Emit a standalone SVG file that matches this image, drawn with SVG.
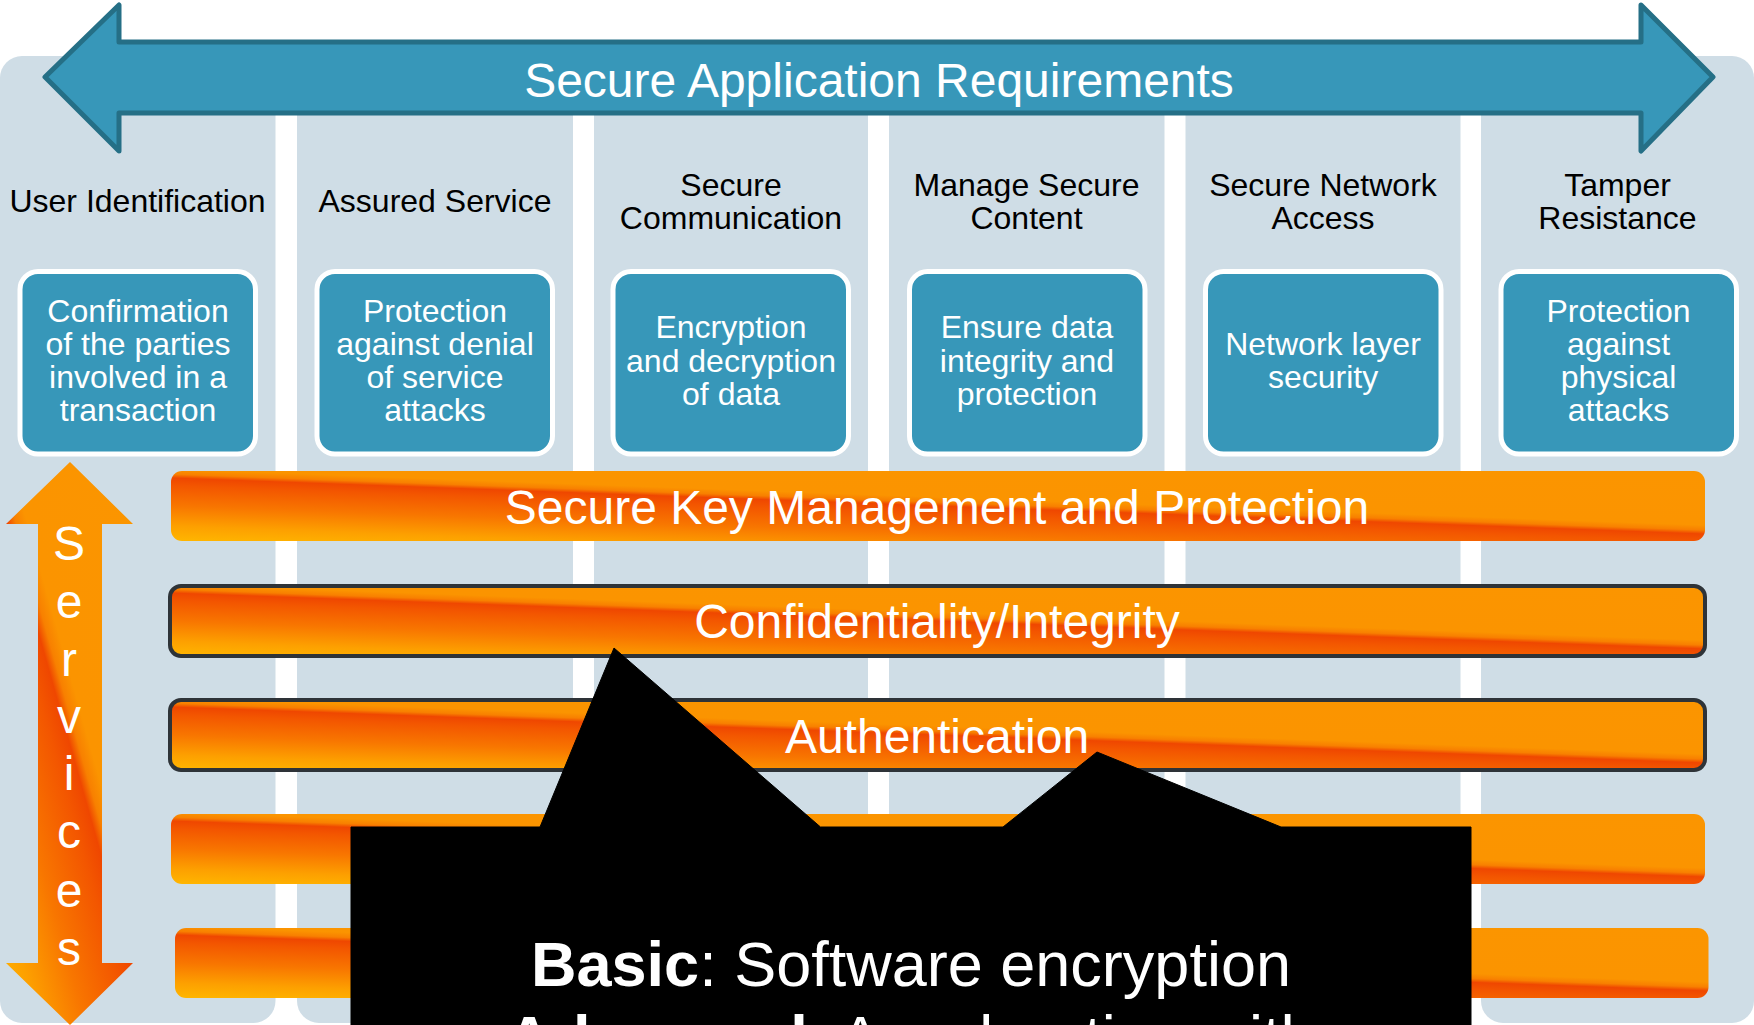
<svg xmlns="http://www.w3.org/2000/svg" width="1754" height="1025" viewBox="0 0 1754 1025">
  <defs>
    <style>
      .col { fill: #CFDDE6; }
      .head { font-family: "Liberation Sans", Arial, sans-serif; font-size: 32px; fill: #000000; text-anchor: middle; }
      .box { fill: #3797B9; stroke: #FFFFFF; stroke-width: 5; }
      .boxtxt { font-family: "Liberation Sans", Arial, sans-serif; font-size: 32px; fill: #FFFFFF; text-anchor: middle; }
      .bar { fill: url(#flame); }
      .bar-edged { fill: url(#flame); stroke: #2E3338; stroke-width: 4; }
      .bartxt { font-family: "Liberation Sans", Arial, sans-serif; font-size: 48px; fill: #FFFFFF; text-anchor: middle; }
      .svc { font-family: "Liberation Sans", Arial, sans-serif; font-size: 48px; fill: #FFFFFF; text-anchor: middle; }
      .note { font-family: "Liberation Sans", Arial, sans-serif; font-size: 63px; fill: #FFFFFF; text-anchor: middle; }
    </style>
    <!-- orange fill with a diagonal red streak running from top-left to bottom-right -->
    <linearGradient id="flame" x1="0" y1="1" x2="0.879" y2="-0.098">
      <stop offset="0" stop-color="#FFB600"/>
      <stop offset="0.12" stop-color="#FDA000"/>
      <stop offset="0.28" stop-color="#F87600"/>
      <stop offset="0.44" stop-color="#F35600"/>
      <stop offset="0.5" stop-color="#EF4700"/>
      <stop offset="0.53" stop-color="#F88000"/>
      <stop offset="0.57" stop-color="#FB9400"/>
      <stop offset="1" stop-color="#FB9500"/>
    </linearGradient>
  </defs>

  <!-- requirement columns -->
  <g id="columns">
    <rect class="col" x="0" y="56" width="275.5" height="967" rx="22"/>
    <rect class="col" x="297" y="56" width="276" height="967" rx="22"/>
    <rect class="col" x="594" y="56" width="274" height="967" rx="22"/>
    <rect class="col" x="889" y="56" width="275.5" height="967" rx="22"/>
    <rect class="col" x="1185.5" y="56" width="275" height="967" rx="22"/>
    <rect class="col" x="1481" y="56" width="273" height="967" rx="22"/>
  </g>

  <!-- double-headed banner arrows -->
  <g id="connectors">
    <g id="requirements-arrow">
      <polygon points="45,77 119,5 119,42 1641,42 1641,5 1713,77 1641,151 1641,113 119,113 119,151" fill="#3797B9" stroke="#256F86" stroke-width="5" stroke-linejoin="round"/>
      <text x="879" y="97" font-family="Liberation Sans, Arial, sans-serif" font-size="48" fill="#FFFFFF" text-anchor="middle">Secure Application Requirements</text>
    </g>
    <g id="services-arrow">
      <polygon points="70,462 133,524 102,524 102,963 133,963 70,1025 6,963 38,963 38,524 6,524" fill="url(#flame)"/>
      <text class="svc" x="69" y="560">S</text>
      <text class="svc" x="69" y="618">e</text>
      <text class="svc" x="69" y="676">r</text>
      <text class="svc" x="69" y="733">v</text>
      <text class="svc" x="69" y="790">i</text>
      <text class="svc" x="69" y="848">c</text>
      <text class="svc" x="69" y="907">e</text>
      <text class="svc" x="69" y="965">s</text>
    </g>
  </g>

  <!-- column headings and requirement boxes -->
  <g id="user-identification">
    <text class="head" x="137.5" y="212">User Identification</text>
    <rect class="box" x="20" y="271.5" width="235.5" height="182.5" rx="18"/>
    <text class="boxtxt" x="138" y="322">Confirmation</text>
    <text class="boxtxt" x="138" y="355">of the parties</text>
    <text class="boxtxt" x="138" y="388">involved in a</text>
    <text class="boxtxt" x="138" y="421">transaction</text>
  </g>
  <g id="assured-service">
    <text class="head" x="435" y="212">Assured Service</text>
    <rect class="box" x="317" y="271.5" width="235.5" height="182.5" rx="18"/>
    <text class="boxtxt" x="435" y="322">Protection</text>
    <text class="boxtxt" x="435" y="355">against denial</text>
    <text class="boxtxt" x="435" y="388">of service</text>
    <text class="boxtxt" x="435" y="421">attacks</text>
  </g>
  <g id="secure-communication">
    <text class="head" x="731" y="196">Secure</text>
    <text class="head" x="731" y="229">Communication</text>
    <rect class="box" x="613" y="271.5" width="235.5" height="182.5" rx="18"/>
    <text class="boxtxt" x="731" y="338">Encryption</text>
    <text class="boxtxt" x="731" y="371.5">and decryption</text>
    <text class="boxtxt" x="731" y="405">of data</text>
  </g>
  <g id="manage-secure-content">
    <text class="head" x="1026.5" y="196">Manage Secure</text>
    <text class="head" x="1026.5" y="229">Content</text>
    <rect class="box" x="909.5" y="271.5" width="235.5" height="182.5" rx="18"/>
    <text class="boxtxt" x="1027" y="338">Ensure data</text>
    <text class="boxtxt" x="1027" y="371.5">integrity and</text>
    <text class="boxtxt" x="1027" y="405">protection</text>
  </g>
  <g id="secure-network-access">
    <text class="head" x="1323" y="196">Secure Network</text>
    <text class="head" x="1323" y="229">Access</text>
    <rect class="box" x="1205.5" y="271.5" width="235.5" height="182.5" rx="18"/>
    <text class="boxtxt" x="1323" y="355">Network layer</text>
    <text class="boxtxt" x="1323" y="388">security</text>
  </g>
  <g id="tamper-resistance">
    <text class="head" x="1617.5" y="196">Tamper</text>
    <text class="head" x="1617.5" y="229">Resistance</text>
    <rect class="box" x="1501" y="271.5" width="235.5" height="182.5" rx="18"/>
    <text class="boxtxt" x="1618.5" y="322">Protection</text>
    <text class="boxtxt" x="1618.5" y="355">against</text>
    <text class="boxtxt" x="1618.5" y="388">physical</text>
    <text class="boxtxt" x="1618.5" y="421">attacks</text>
  </g>

  <!-- service layers -->
  <g id="key-management">
    <rect class="bar" x="171" y="471" width="1534" height="70" rx="11"/>
    <text class="bartxt" x="937" y="524">Secure Key Management and Protection</text>
  </g>
  <g id="confidentiality">
    <rect class="bar-edged" x="170" y="586" width="1535" height="70" rx="11"/>
    <text class="bartxt" x="937" y="638">Confidentiality/Integrity</text>
  </g>
  <g id="authentication">
    <rect class="bar-edged" x="170" y="700" width="1535" height="70" rx="11"/>
    <text class="bartxt" x="937" y="753">Authentication</text>
  </g>
  <g id="layer-4">
    <rect class="bar" x="171" y="814" width="1534" height="70" rx="11"/>
  </g>
  <g id="layer-5">
    <rect class="bar" x="175" y="928" width="1533.5" height="70" rx="11"/>
  </g>

  <!-- black callout -->
  <g id="callout">
    <polygon points="351,827 540,827 614,648 820.5,827 1003,827 1097,752 1281,827 1471,827 1471,1030 351,1030" fill="#000000" stroke="#000000" stroke-width="1" stroke-linejoin="round"/>
    <text class="note" x="911" y="986"><tspan font-weight="bold">Basic</tspan>: Software encryption</text>
    <text class="note" x="911" y="1060"><tspan font-weight="bold">Advanced</tspan>: Acceleration with</text>
  </g>
</svg>
